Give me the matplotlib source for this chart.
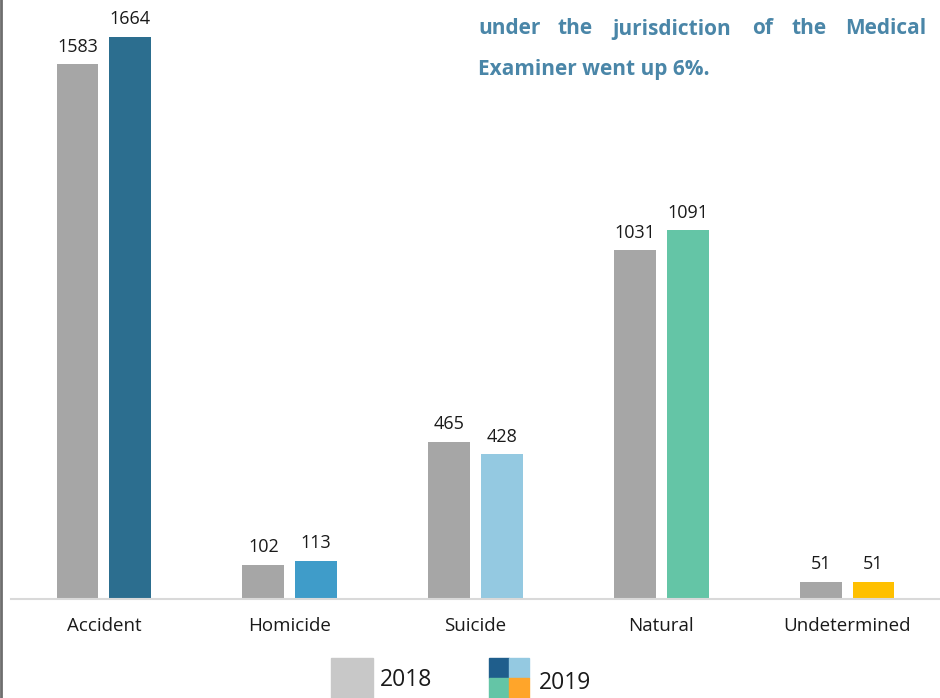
import matplotlib.pyplot as plt
import matplotlib.patches as mpatches
import numpy as np

categories = ["Accident", "Homicide", "Suicide", "Natural", "Undetermined"]
vals_2018 = [1583, 102, 465, 1031, 51]
vals_2019 = [1664, 113, 428, 1091, 51]
colors_2019 = ["#2C6E8F", "#3F9CC9", "#94C9E1", "#64C5A6", "#FFC000"]
gray = "#A6A6A6"

fig = plt.figure(figsize=(9.4, 6.98), dpi=100)
ax = fig.add_axes([11 / 940, 99 / 698, 929 / 940, 599 / 698])

x = np.arange(len(categories))
w = 0.225
off = 0.142
b1 = ax.bar(x - off, vals_2018, w, color=gray)
b2 = ax.bar(x + off, vals_2019, w, color=colors_2019)

for bars in (b1, b2):
    for r in bars:
        ax.annotate(f"{int(r.get_height())}", (r.get_x() + r.get_width() / 2, r.get_height()),
                    xytext=(0, 6), textcoords="offset points", ha="center", va="bottom",
                    fontsize=13, family="Open Sans", color="#1a1a1a")

ax.set_xlim(-0.5, 4.5)
ax.set_ylim(0, 1772)
ax.set_yticks([])
ax.set_xticks(x)
ax.set_xticklabels(categories, fontsize=13.5, family="Open Sans", color="#1a1a1a")
ax.tick_params(axis="x", length=0, pad=13)
for s in ["top", "left", "right"]:
    ax.spines[s].set_visible(False)
ax.spines["bottom"].set_color("#D9D9D9")
ax.spines["bottom"].set_linewidth(1.5)

# left edge line
fig.add_artist(plt.Line2D([1 / 940, 1 / 940], [0, 1], color="#6E6E6E", lw=2, transform=fig.transFigure))

# heading text (justified)
tc = "#4A86A8"
words = ["under", "the", "jurisdiction", "of", "the", "Medical"]
lefts = [478, 557, 612, 752, 792, 845]
for wd, lx in zip(words, lefts):
    fig.text(lx / 940, 1 - 29 / 698, wd, fontsize=15, fontweight="bold", family="Open Sans",
             color=tc, ha="left", va="center")
fig.text(478 / 940, 1 - 69 / 698, "Examiner went up 6%.", fontsize=15, fontweight="bold",
         family="Open Sans", color=tc, ha="left", va="center")

# legend
fig.add_artist(mpatches.Rectangle((331 / 940, 0), 42 / 940, 40 / 698, color="#C8C8C8",
                                  transform=fig.transFigure))
fig.text(380 / 940, 1 - 680 / 698, "2018", fontsize=16.5, family="Open Sans", color="#1a1a1a",
         ha="left", va="center")
quad = ["#1F5E8C", "#94C9E1", "#64C5A6", "#FFA52A"]
qx = [489, 509, 489, 509]
qy = [20, 20, 0, 0]
for c, px, py in zip(quad, qx, qy):
    fig.add_artist(mpatches.Rectangle((px / 940, py / 698), 20 / 940, 20 / 698, color=c,
                                      transform=fig.transFigure))
fig.text(539 / 940, 1 - 683 / 698, "2019", fontsize=16.5, family="Open Sans", color="#1a1a1a",
         ha="left", va="center")

fig.savefig("out.png", dpi=100)
